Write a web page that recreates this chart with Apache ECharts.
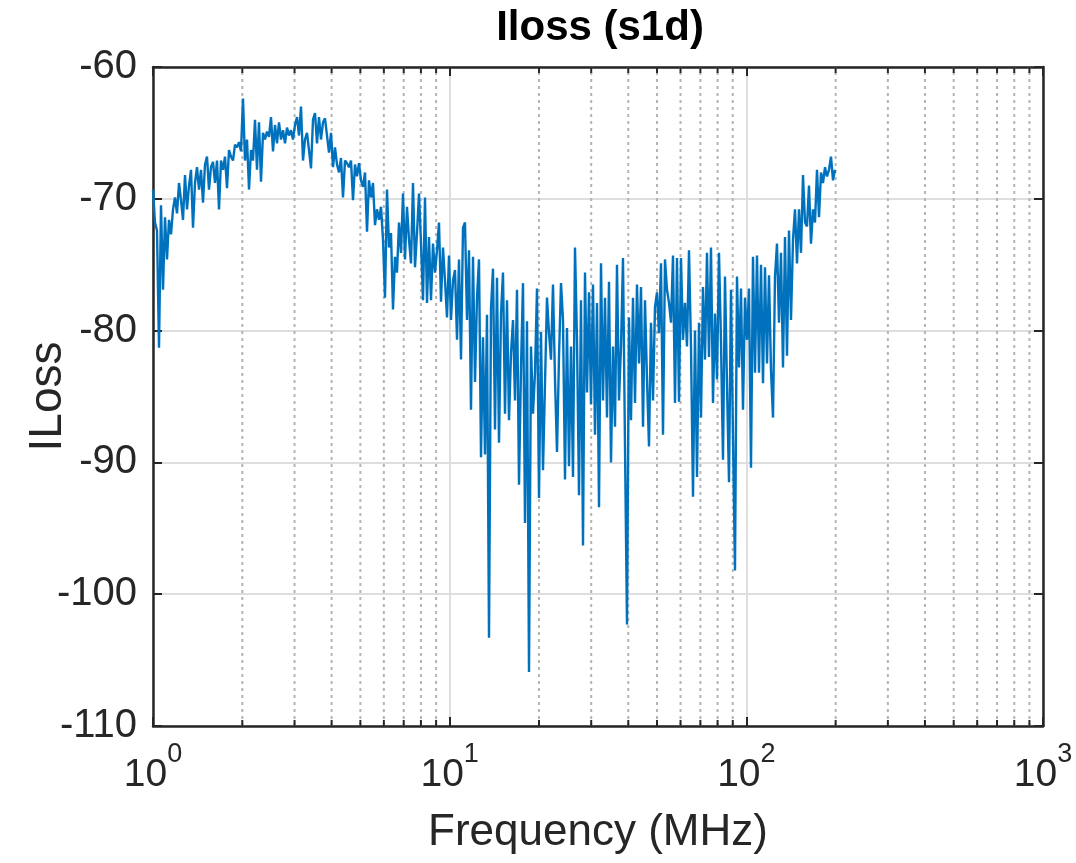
<!DOCTYPE html>
<html>
<head>
<meta charset="utf-8">
<script src="https://cdn.jsdelivr.net/npm/echarts@6/dist/echarts.min.js"></script>
<style>
  html, body { margin: 0; padding: 0; background: #ffffff; }
  #chart { width: 1076px; height: 863px; }
</style>
</head>
<body>
<div id="chart"></div>
<script>
// ---- Data ----
const TITLE = 'Iloss (s1d)';
const X_NAME = 'Frequency (MHz)';
const Y_NAME = 'ILoss';

// Sweep: log-spaced frequency grid (MHz), one sample per value below
const FREQ_MIN = 1;
const FREQ_MAX = 199;

// ILoss values (dB) along the sweep
const ilossValues = [
  -69.3,-71.8,-72.4,-81.3,-70.5,-76.9,-71.4,-74.6,-71.6,-72.7,
  -70.8,-69.9,-71.1,-68.8,-70.1,-71.6,-68.2,-70.8,-69.0,-67.8,
  -72.2,-68.8,-67.6,-69.3,-67.8,-70.3,-67.4,-66.8,-69.3,-67.6,
  -67.2,-68.8,-67.1,-70.8,-67.1,-67.8,-66.8,-69.2,-66.3,-66.8,
  -67.1,-65.9,-66.1,-65.7,-66.4,-62.4,-67.1,-65.5,-69.3,-66.3,
  -67.1,-64.0,-67.8,-64.2,-68.7,-65.0,-65.5,-64.9,-65.3,-63.8,
  -66.4,-64.4,-65.8,-64.2,-65.5,-64.8,-65.8,-64.6,-65.2,
  -64.8,-65.5,-64.4,-63.8,-65.2,-63.0,-67.1,-65.5,-65.0,-66.3,
  -67.7,-64.0,-63.5,-65.8,-63.8,-65.5,-64.2,-63.9,-65.2,-66.5,
  -65.0,-67.6,-66.1,-67.4,-68.0,-66.9,-69.9,-67.1,-67.3,-67.6,
  -67.1,-70.1,-67.4,-68.3,-67.3,-68.6,-69.1,-68.0,-72.5,-68.6,
  -69.9,-68.8,-72.0,-70.8,-71.6,-70.6,-73.1,-77.5,-69.3,-73.7,
  -72.6,-78.4,-74.4,-75.6,-71.8,-74.1,-69.6,-74.6,-70.6,-73.1,
  -74.9,-68.8,-75.2,-72.6,-69.6,-73.4,-77.7,
  -69.9,-77.9,-72.9,-77.7,-73.4,-75.6,-73.9,-71.8,-77.8,-73.7,
  -76.2,-79.0,-74.3,-79.2,-76.2,-75.4,-80.7,-74.6,-82.2,-72.2,
  -71.8,-79.2,-73.9,-86.0,-74.4,-83.9,-77.5,-74.6,-89.6,-80.5,
  -89.4,-78.8,-103.3,-78.3,-75.3,-87.5,-76.0,-88.5,-78.7,-75.6,
  -86.3,-77.7,-86.8,-81.7,-79.2,-85.3,-76.9,-91.7,-82.8,-76.4,
  -94.6,-79.3,-105.9,-81.2,-86.3,-83.2,-76.8,-92.7,-80.1,-90.6,
  -84.0,-77.5,-80.2,-82.2,-76.5,-83.7,-89.2,
  -82.0,-76.4,-79.2,-91.3,-79.8,-90.3,-81.2,-91.1,-73.7,-80.7,
  -92.5,-77.7,-96.3,-75.6,-84.7,-77.1,-85.6,-76.5,-87.9,-77.9,
  -93.4,-74.9,-85.3,-77.5,-86.6,-76.3,-90.0,-81.2,-87.3,-75.0,
  -85.3,-81.2,-74.5,-88.8,-102.3,-79.0,-86.8,-77.5,-85.5,-76.5,
  -82.5,-76.7,-87.3,-77.7,-83.7,-88.8,-79.4,-85.3,-78.2,-77.1,
  -80.2,-74.9,-87.9,-74.6,-76.9,-77.9,-79.4,-74.3,-85.5,-74.5,
  -85.4,-74.5,-80.7,-77.9,-81.2,-73.9,-81.2,-92.6,
  -80.0,-91.1,-79.4,-86.6,-76.7,-82.2,-74.1,-82.0,-73.7,-85.5,
  -78.7,-83.7,-74.1,-80.9,-89.8,-75.9,-84.1,-91.5,-76.9,-88.1,
  -98.2,-75.9,-82.8,-76.8,-86.0,-77.5,-80.7,-76.8,-90.4,-74.4,
  -83.2,-74.3,-83.2,-75.0,-84.0,-75.2,-82.5,-75.8,-83.0,-86.6,
  -75.9,-73.4,-79.4,-74.1,-82.8,-72.9,-81.9,-72.4,-79.2,-73.1,
  -70.8,-74.9,-70.8,-74.1,-68.2,-71.8,-72.1,-69.0,-73.4,-70.8,
  -71.8,-67.8,-71.4,-68.0,-68.8,-67.6,-68.3,-67.8,-66.8,-68.6,
  -67.8
];

// Axis ranges and ticks
const X_MIN = 1, X_MAX = 1000;
const Y_MIN = -110, Y_MAX = -60, Y_STEP = 10;
const xMinorTicks = [2,3,4,5,6,7,8,9,20,30,40,50,60,70,80,90,200,300,400,500,600,700,800,900];

// ---- Build ----
const n = ilossValues.length;
const lmin = Math.log10(FREQ_MIN), lmax = Math.log10(FREQ_MAX);
const freqs = ilossValues.map((_, i) => Math.pow(10, lmin + (lmax - lmin) * i / (n - 1)));
const seriesData = ilossValues.map((v, i) => [freqs[i], v]);

const FONT = 'Liberation Sans';
const TXT = '#262626';
const FRAME = '#262626';

const chart = echarts.init(document.getElementById('chart'), null, { renderer: 'canvas' });

const xAxisBase = {
  type: 'log', logBase: 10, min: X_MIN, max: X_MAX,
  axisLine: { show: true, onZero: false, lineStyle: { color: FRAME, width: 2.5 } },
  axisTick: { show: true, inside: true, length: 9, lineStyle: { color: FRAME, width: 2 } },
  minorTick: { show: false }
};

chart.setOption({
  animation: false,
  backgroundColor: '#ffffff',
  grid: { left: 153, right: 33, top: 67, bottom: 137, show: false, containLabel: false, outerBoundsMode: 'none' },
  graphic: [{
    type: 'text', x: 600, y: 28,
    style: { text: TITLE, font: 'bold 42px "Liberation Sans"', fill: '#000', textAlign: 'center', textVerticalAlign: 'middle' }
  }],
  xAxis: [
    Object.assign({}, xAxisBase, {
      position: 'bottom',
      name: X_NAME, nameLocation: 'middle', nameGap: 85,
      nameTextStyle: { fontFamily: FONT, fontSize: 44, color: TXT },
      axisLabel: {
        margin: 15,
        formatter: v => '{b|10}{s|' + Math.round(Math.log10(v)) + '}',
        rich: {
          b: { fontFamily: FONT, fontSize: 39, color: TXT, lineHeight: 54, verticalAlign: 'bottom' },
          s: { fontFamily: FONT, fontSize: 27, color: TXT, lineHeight: 28, verticalAlign: 'top' }
        }
      },
      splitLine: { show: true, lineStyle: { color: '#dedede', width: 2 } }
    }),
    Object.assign({}, xAxisBase, {
      position: 'top',
      axisLabel: { show: false },
      splitLine: { show: false }
    })
  ],
  yAxis: [
    {
      type: 'value', min: Y_MIN, max: Y_MAX, interval: Y_STEP, position: 'left',
      name: Y_NAME, nameLocation: 'middle', nameGap: 82, nameMoveOverlap: false,
      nameTextStyle: { fontFamily: FONT, fontSize: 46, color: TXT },
      axisLine: { show: true, onZero: false, lineStyle: { color: FRAME, width: 2.5 } },
      axisTick: { show: true, inside: true, length: 9, lineStyle: { color: FRAME, width: 2 } },
      axisLabel: { margin: 16, fontFamily: FONT, fontSize: 40, color: TXT },
      splitLine: { show: true, lineStyle: { color: '#dedede', width: 2 } }
    },
    {
      type: 'value', min: Y_MIN, max: Y_MAX, interval: Y_STEP, position: 'right',
      axisLine: { show: true, onZero: false, lineStyle: { color: FRAME, width: 2.5 } },
      axisTick: { show: true, inside: true, length: 9, lineStyle: { color: FRAME, width: 2 } },
      axisLabel: { show: false },
      splitLine: { show: false }
    }
  ],
  series: [
    {
      // minor grid (dotted) and minor ticks at 2..9 x each decade
      type: 'custom', xAxisIndex: 0, yAxisIndex: 0, silent: true, z: 1,
      data: xMinorTicks.map(f => [f, Y_MIN]),
      renderItem: (params, api) => {
        const f = api.value(0);
        const pb = api.coord([f, Y_MIN]);
        const pt = api.coord([f, Y_MAX]);
        return {
          type: 'group',
          children: [
            { type: 'line', shape: { x1: pb[0], y1: pb[1], x2: pt[0], y2: pt[1] },
              style: { stroke: '#b4b4b4', lineWidth: 2, lineDash: [3, 4] } },
            { type: 'line', shape: { x1: pb[0], y1: pb[1], x2: pb[0], y2: pb[1] - 6 },
              style: { stroke: FRAME, lineWidth: 2 } },
            { type: 'line', shape: { x1: pt[0], y1: pt[1], x2: pt[0], y2: pt[1] + 6 },
              style: { stroke: FRAME, lineWidth: 2 } }
          ]
        };
      }
    },
    {
      type: 'line', xAxisIndex: 0, yAxisIndex: 0, z: 3,
      data: seriesData,
      showSymbol: false, symbol: 'none',
      lineStyle: { color: '#0072BD', width: 2.4 },
      itemStyle: { color: '#0072BD' }
    }
  ]
});
</script>
</body>
</html>
